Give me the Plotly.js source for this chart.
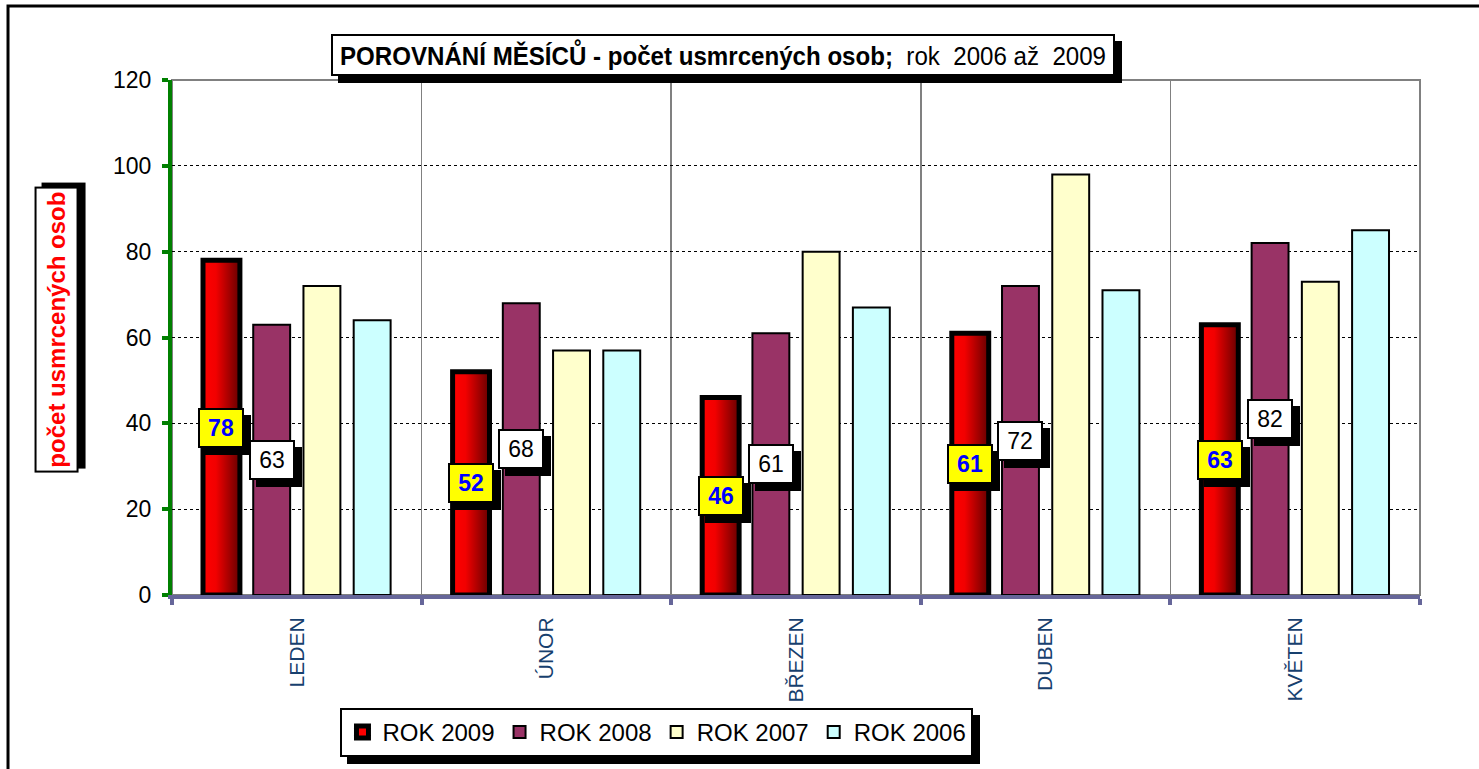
<!DOCTYPE html>
<html>
<head>
<meta charset="utf-8">
<script src="https://cdn.plot.ly/plotly-3.0.1.min.js"></script>
<style>
  html, body { margin: 0; padding: 0; background: #ffffff; }
  #chart { width: 1479px; height: 769px; }
</style>
</head>
<body>
<div id="chart"></div>
<script>
// ---- data ----
const months = ['LEDEN', 'ÚNOR', 'BŘEZEN', 'DUBEN', 'KVĚTEN'];
const seriesNames = ['ROK 2009', 'ROK 2008', 'ROK 2007', 'ROK 2006'];
const rok2009 = [78, 52, 46, 61, 63];
const rok2008 = [63, 68, 61, 72, 82];
const rok2007 = [72, 57, 80, 98, 73];
const rok2006 = [64, 57, 67, 71, 85];
const yTicks = [0, 20, 40, 60, 80, 100, 120];
const titleText = '<b>POROVNÁNÍ MĚSÍCŮ - počet usmrcených osob;</b>&nbsp; rok&nbsp; 2006 až&nbsp; 2009';
const yTitleText = '<b>počet usmrcených osob</b>';

// ---- styling ----
const ARIAL = '"Liberation Sans", Arial, sans-serif';
const colors = ['#FF0000', '#993366', '#FFFFCC', '#CCFFFF'];
const lineWidths = [5, 2, 2, 2];
const BARGAP = 0.195, BARGROUPGAP = 0.265;

const allSeries = [rok2009, rok2008, rok2007, rok2006];
const traces = allSeries.map((vals, i) => ({
  type: 'bar',
  name: seriesNames[i],
  x: months,
  y: vals,
  marker: { color: colors[i], line: { color: '#000000', width: lineWidths[i] } },
  hoverinfo: 'x+y+name'
}));

// data label annotations (with shadow) for ROK 2009 and ROK 2008
const annotations = [];
const slot = (1 - BARGAP) / allSeries.length;
function addLabel(vals, seriesIdx, bg, fcolor, bold) {
  vals.forEach((v, k) => {
    const xpos = k + (seriesIdx - (allSeries.length - 1) / 2) * slot;
    const txt = bold ? '<b>' + v + '</b>' : String(v);
    annotations.push({
      x: xpos, y: v / 2, xref: 'x', yref: 'y', showarrow: false,
      xanchor: 'center', yanchor: 'middle',
      text: txt, font: { family: ARIAL, size: 23, color: '#000000' },
      bgcolor: '#000000', bordercolor: '#000000', borderwidth: 2, borderpad: 0,
      width: 42, height: 36, xshift: 7, yshift: -7
    });
    annotations.push({
      x: xpos, y: v / 2, xref: 'x', yref: 'y', showarrow: false,
      xanchor: 'center', yanchor: 'middle',
      text: txt, font: { family: ARIAL, size: 23, color: fcolor },
      bgcolor: bg, bordercolor: '#000000', borderwidth: 2, borderpad: 0,
      width: 42, height: 36
    });
  });
}
addLabel(rok2009, 0, '#FFFF00', '#0000FF', true);
addLabel(rok2008, 1, '#FFFFFF', '#000000', false);

// chart title box with shadow
annotations.push({
  x: 0.4415, y: 1.0485, xref: 'paper', yref: 'paper', showarrow: false,
  xanchor: 'center', yanchor: 'middle',
  text: titleText, font: { family: ARIAL, size: 26, color: '#000000' },
  bgcolor: '#000000', bordercolor: '#000000', borderwidth: 2, borderpad: 0,
  width: 780, height: 38, xshift: 7, yshift: -7
});
const TITLE_INDEX = annotations.length;
annotations.push({
  x: 0.4415, y: 1.0485, xref: 'paper', yref: 'paper', showarrow: false,
  xanchor: 'center', yanchor: 'middle',
  text: titleText, font: { family: ARIAL, size: 26, color: '#000000' },
  bgcolor: '#FFFFFF', bordercolor: '#000000', borderwidth: 2, borderpad: 0,
  width: 780, height: 38
});

// y-axis title box with shadow
annotations.push({
  x: -0.0929, y: 0.5155, xref: 'paper', yref: 'paper', showarrow: false,
  xanchor: 'center', yanchor: 'middle',
  text: yTitleText, textangle: -90, font: { family: ARIAL, size: 24, color: '#000000' },
  bgcolor: '#000000', bordercolor: '#000000', borderwidth: 2, borderpad: 0,
  width: 282, height: 40, xshift: 7, yshift: 4
});
annotations.push({
  x: -0.0929, y: 0.5155, xref: 'paper', yref: 'paper', showarrow: false,
  xanchor: 'center', yanchor: 'middle',
  text: yTitleText, textangle: -90, font: { family: ARIAL, size: 24, color: '#FF0000' },
  bgcolor: '#FFFFFF', bordercolor: '#000000', borderwidth: 2, borderpad: 0,
  width: 282, height: 40
});

const shapes = [
  // outer chart border (left & top visible)
  { type: 'rect', xref: 'paper', yref: 'paper', x0: -0.1314, x1: 1.3, y0: -0.6, y1: 1.1437,
    line: { color: '#000000', width: 3 }, fillcolor: 'rgba(0,0,0,0)', layer: 'below' },
  // plot area frame (gray)
  { type: 'rect', xref: 'paper', yref: 'paper', x0: 0, x1: 1, y0: 0, y1: 1,
    line: { color: '#808080', width: 2 }, fillcolor: 'rgba(0,0,0,0)', layer: 'below' }
];

const layout = {
  width: 1479, height: 769,
  margin: { l: 172, r: 59, t: 80, b: 174, pad: 0, autoexpand: false },
  paper_bgcolor: '#FFFFFF', plot_bgcolor: '#FFFFFF',
  barmode: 'group', bargap: BARGAP, bargroupgap: BARGROUPGAP,
  showlegend: true,
  legend: {
    orientation: 'h', xref: 'container', yref: 'container',
    x: 0.4442, xanchor: 'center', y: 0.0795, yanchor: 'top',
    bgcolor: '#FFFFFF', bordercolor: '#000000', borderwidth: 2,
    font: { family: ARIAL, size: 24, color: '#000000' },
    traceorder: 'normal'
  },
  xaxis: {
    type: 'category', tickson: 'boundaries', automargin: false,
    showgrid: true, gridcolor: '#808080', gridwidth: 1.5,
    showline: true, linecolor: '#666699', linewidth: 4,
    ticks: 'outside', ticklen: 6, tickwidth: 4, tickcolor: '#666699',
    tickangle: -90, ticklabelstandoff: 10,
    tickfont: { family: ARIAL, size: 21, color: '#17406E' },
    fixedrange: true
  },
  yaxis: {
    range: [0, 120], tickvals: yTicks, ticktext: yTicks.map(String), automargin: false,
    showgrid: true, gridcolor: '#000000', gridwidth: 1, griddash: 'dot',
    zeroline: false,
    showline: true, linecolor: '#008000', linewidth: 4,
    ticks: 'outside', ticklen: 6, tickwidth: 4, tickcolor: '#008000',
    ticklabelstandoff: 6,
    tickfont: { family: ARIAL, size: 23, color: '#000000' },
    fixedrange: true
  },
  annotations: annotations,
  shapes: shapes
};

Plotly.newPlot('chart', traces, layout, { displayModeBar: false, staticPlot: true }).then(gd => {
  const svgNS = 'http://www.w3.org/2000/svg';
  // horizontal red gradient for ROK 2009 bars
  const svg = gd.querySelector('.main-svg');
  let defs = svg.querySelector('defs');
  if (!defs) { defs = document.createElementNS(svgNS, 'defs'); svg.insertBefore(defs, svg.firstChild); }
  const grad = document.createElementNS(svgNS, 'linearGradient');
  grad.setAttribute('id', 'grad2009');
  grad.setAttribute('x1', '0'); grad.setAttribute('y1', '0');
  grad.setAttribute('x2', '1'); grad.setAttribute('y2', '0');
  [['0', '#FF0000'], ['0.35', '#F20000'], ['1', '#660000']].forEach(([o, c]) => {
    const s = document.createElementNS(svgNS, 'stop');
    s.setAttribute('offset', o); s.setAttribute('stop-color', c);
    grad.appendChild(s);
  });
  defs.appendChild(grad);
  const barTraces = gd.querySelectorAll('.barlayer .trace');
  if (barTraces.length) {
    barTraces[0].querySelectorAll('path').forEach(p => { p.style.fill = 'url(#grad2009)'; });
  }
  // condense the chart title to fit its box (narrow-font look)
  const tg = gd.querySelector('.annotation[data-index="' + TITLE_INDEX + '"] text.annotation-text');
  if (tg) {
    tg.setAttribute('textLength', '766');
    tg.setAttribute('lengthAdjust', 'spacingAndGlyphs');
  }
  // legend drop shadow
  const bg = gd.querySelector('.legend rect.bg');
  if (bg) {
    const sh = bg.cloneNode(false);
    sh.setAttribute('class', 'legend-shadow');
    sh.style.fill = '#000000';
    sh.style.stroke = '#000000';
    const tx = parseFloat(bg.getAttribute('x') || 0) + 7;
    const ty = parseFloat(bg.getAttribute('y') || 0) + 7;
    sh.setAttribute('x', tx); sh.setAttribute('y', ty);
    bg.parentNode.insertBefore(sh, bg);
  }
});
</script>
</body>
</html>
